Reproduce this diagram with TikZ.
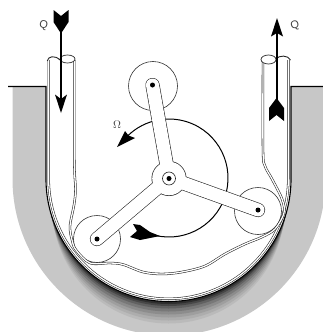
\documentclass[tikz,border=0pt]{standalone}
\usepackage{fontspec}
\setmainfont{Liberation Sans}
\tikzset{
  tubewall/.style={draw=black!85,line width=.55pt,double=white,double distance=1.3pt},
  rollerdisc/.style={draw=black!80,fill=white,line width=.6pt},
  flow/.style={draw=black,line width=1.1pt},
  solidhead/.style={fill=black,draw=none},
  lab/.style={inner sep=0pt,font=\fontsize{11}{11}\selectfont,text=black!75}
}
\begin{document}
\begin{tikzpicture}[x=1pt,y=-1pt]
\useasboundingbox (0,0) rectangle (323,332);
\clip (0,0) rectangle (323,332);
% housing
\fill[black!22] (12.5,87) -- (12.5,179) arc[start angle=180,end angle=0,radius=156.5] -- (325,87) -- cycle;
\begin{scope}
\clip (0,200) rectangle (323,332);
\foreach \b/\p in {22/27,19/32,16/38,13/45,10/53,7/62,4.5/72,2.5/82}{
  \pgfmathsetmacro{\cy}{179+1.3*\b}
  \pgfmathsetmacro{\rr}{122.5-0.3*\b}
  \fill[black!\p] (168.5,\cy) circle[radius=\rr];
}
\end{scope}
\fill[white] (46,80) -- (46,179) arc[start angle=180,end angle=0,radius=122.5] -- (291,80) -- cycle;
\draw[line width=1.1pt] (8,86.5) -- (46,86.5) -- (46,179) arc[start angle=180,end angle=0,radius=122.5] -- (291,86.5) -- (323,86.5);
% rollers
\node[circle,rollerdisc,minimum size=49pt,inner sep=0pt] (rtop) at (153,86) {};
\node[circle,rollerdisc,minimum size=47pt,inner sep=0pt] (rleft) at (97,239) {};
\node[circle,rollerdisc,minimum size=47pt,inner sep=0pt] (rright) at (258,211) {};
% tube
\draw[tubewall] (48.7,60) -- (48.7,179) arc[start angle=180,end angle=0,radius=119.8] -- (288.3,60);
\draw[tubewall] plot[smooth,tension=.55] coordinates {(74.3,60) (74.3,160) (75.5,189) (74,205) (70,226) (72,240) (76,250) (90,263) (110,263) (123,264.5) (143,272) (162,274) (182,272) (205,266) (225,254) (245,244) (262,237) (275,229) (284,213) (282,199) (272,179) (265,166) (263,150) (263,60)};
\draw[black!85,line width=.7pt,fill=white] (67.5,59) ellipse[x radius=7.5,y radius=4];
\draw[black!85,line width=.7pt,fill=white] (268.5,59.5) ellipse[x radius=7.5,y radius=4.5];
\draw[black!85,line width=.9pt] (47.3,61) .. controls (48,56) and (55,55) .. (60,60);
\draw[black!85,line width=.9pt] (276,59) .. controls (279,55) and (288,55) .. (290.5,60);
% rotation arc
\draw[line width=1pt] (169,178) ++(108.7:59) arc[start angle=108.7,end angle=-138.5,radius=59];
\fill[solidhead] (117,147) -- (125,131) -- (128.5,135.5) -- (135,138) -- cycle;
\fill[solidhead] (133,224) -- (140,225) -- (150,232) -- (160,236) -- (150,238) -- (140,240) -- (130,237) -- (137,231) -- cycle;
% rotor
\draw[line width=14.2pt,black!85,line cap=round] (169,178) -- (152.5,85) (169,178) -- (97,239) (169,178) -- (258,210);
\node[circle,fill=black!85,minimum size=35pt,inner sep=0pt] (hubout) at (169,178.5) {};
\draw[line width=13pt,white,line cap=round] (169,178) -- (152.5,85) (169,178) -- (97,239) (169,178) -- (258,210);
\node[circle,fill=white,minimum size=33.6pt,inner sep=0pt] (hub) at (169,178.5) {};
\node[circle,draw=black!85,fill=white,line width=.6pt,minimum size=13pt,inner sep=0pt] (hubring) at (169,178.5) {};
\node[circle,fill=black,minimum size=5pt,inner sep=0pt] (hubdot) at (169,178.5) {};
\node[circle,fill=black,minimum size=5pt,inner sep=0pt] (ptop) at (152.5,85) {};
\node[circle,fill=black,minimum size=5pt,inner sep=0pt] (pleft) at (97,239) {};
\node[circle,fill=black,minimum size=5pt,inner sep=0pt] (pright) at (258,210) {};
% flow arrows
\coordinate (atail) at (61,20);
\coordinate (ahead) at (61,100);
\draw[flow] (atail) -- (ahead);
\fill[solidhead] (53.5,10) -- (61,16) -- (68.5,10) -- (68.5,22) -- (61,33.5) -- (53.5,22) -- cycle;
\fill[solidhead] (61,113) -- (55,94.5) -- (61,99) -- (67,94.5) -- cycle;
\coordinate (btail) at (277,105);
\coordinate (bhead) at (277,30);
\draw[flow] (btail) -- (bhead);
\fill[solidhead] (277,18) -- (271,36.5) -- (277,33) -- (283,36.5) -- cycle;
\fill[solidhead] (269,121) -- (276.5,115) -- (284,121) -- (284,108) -- (276.5,98) -- (269,108) -- cycle;
% labels
\node[lab,rotate=-10] (q1) at (43.5,25) {Q};
\node[lab,rotate=15] (q2) at (295,25.5) {Q};
\node[lab] (om) at (117,125) {$\Omega$};
\end{tikzpicture}
\end{document}
